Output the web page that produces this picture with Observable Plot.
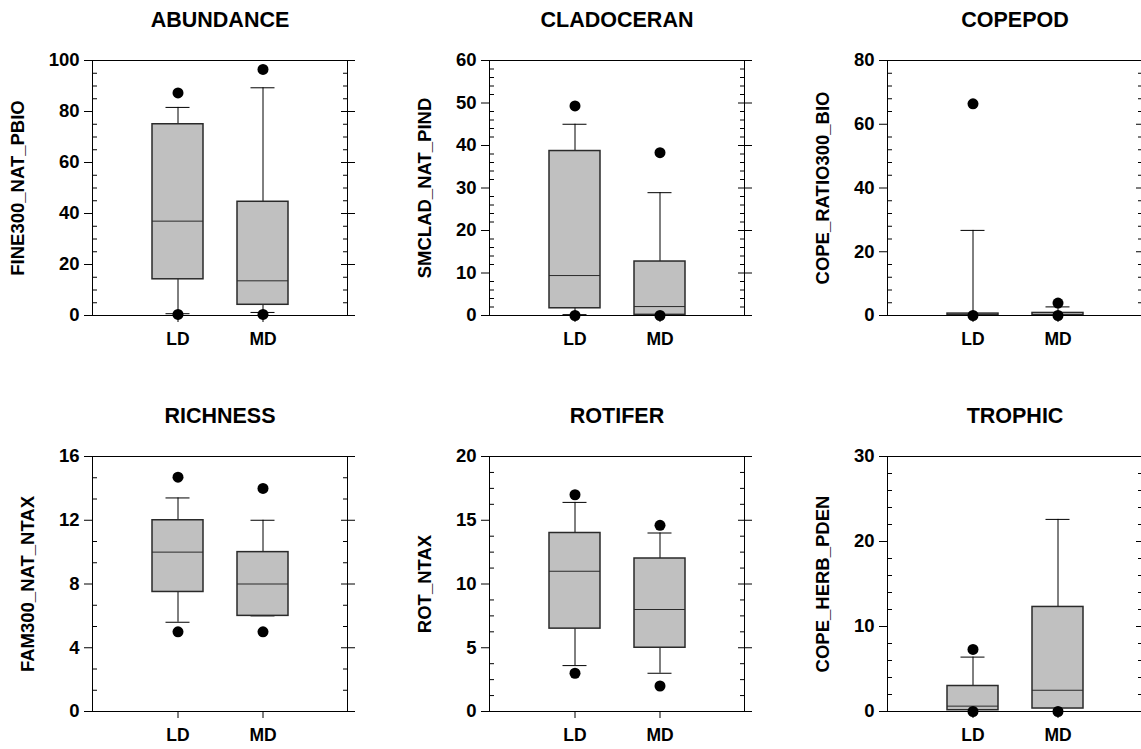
<!DOCTYPE html>
<html><head><meta charset="utf-8">
<script src="https://cdn.jsdelivr.net/npm/d3@7"></script>
<script src="https://cdn.jsdelivr.net/npm/@observablehq/plot@0.6"></script>
<style>
html,body{margin:0;padding:0;background:#fff;overflow:hidden;}
#chart{position:relative;width:1141px;height:749px;overflow:hidden;}
.panel{position:absolute;}
</style></head><body><div id="chart"></div>
<script>
const categories = ["LD", "MD"];
const titles = ["ABUNDANCE", "CLADOCERAN", "COPEPOD", "RICHNESS", "ROTIFER", "TROPHIC"];
const yLabels = ["FINE300_NAT_PBIO", "SMCLAD_NAT_PIND", "COPE_RATIO300_BIO", "FAM300_NAT_NTAX", "ROT_NTAX", "COPE_HERB_PDEN"];
const yMax = [100, 60, 80, 16, 20, 30];
const majorStep = [20, 10, 20, 4, 5, 10];
const minorCount = [4, 5, 5, 3, 4, 5]; // minor intervals per major interval
// values per panel: [LD, MD]
const q1 = [[14.2, 4.2], [1.7, 0.15], [0.05, 0.05], [7.5, 6.0], [6.5, 5.0], [0.15, 0.35]];
const med = [[37, 13.6], [9.4, 2.1], [0.2, 0.3], [10, 8], [11, 8], [0.63, 2.5]];
const q3 = [[75, 44.6], [38.7, 12.7], [0.6, 0.8], [12, 10], [14, 12], [3.0, 12.3]];
const whiskLo = [[0.7, 1.2], [0.2, 0], [0, 0], [5.6, 6.0], [3.6, 3.0], [0, 0]];
const whiskHi = [[81.6, 89.3], [45, 28.9], [26.7, 2.7], [13.4, 12], [16.4, 14], [6.4, 22.6]];
const outLo = [[0.4, 0.4], [0, 0], [0, 0], [5, 5], [3, 2], [0, 0]];
const outHi = [[87.3, 96.5], [49.3, 38.3], [66.4, 3.9], [14.7, 14], [17, 14.6], [7.3, null]];

const FONT = "'Liberation Sans', Arial, Helvetica, sans-serif";
const chart = document.getElementById("chart");
const blank = () => "";

titles.forEach((title, i) => {
  const col = i % 3, row = Math.floor(i / 3);
  const rows = categories.map((c, j) => ({
    cat: c, q1: q1[i][j], med: med[i][j], q3: q3[i][j], wl: whiskLo[i][j], wh: whiskHi[i][j]
  }));
  const outliers = [];
  categories.forEach((c, j) => {
    if (outLo[i][j] != null) outliers.push({cat: c, v: outLo[i][j]});
    if (outHi[i][j] != null) outliers.push({cat: c, v: outHi[i][j]});
  });
  const nMajor = Math.round(yMax[i] / majorStep[i]);
  const major = d3.range(nMajor + 1).map(k => k * majorStep[i]);
  const minor = [];
  for (let k = 0; k < nMajor; k++)
    for (let m = 1; m < minorCount[i]; m++)
      minor.push(k * majorStep[i] + m * majorStep[i] / minorCount[i]);
  const maxLen = d3.max(major, d => String(d).length);

  const p = Plot.plot({
    width: 397, height: 356,
    marginLeft: 92, marginRight: 50, marginTop: 60, marginBottom: 41,
    style: {fontFamily: FONT, fontWeight: "bold", fontSize: "18px", color: "black", background: "transparent", overflow: "visible"},
    x: {type: "band", domain: categories, paddingInner: 0.4, paddingOuter: 0.7, label: null},
    y: {domain: [0, yMax[i]], label: null},
    marks: [
      Plot.ruleX(rows, {x: "cat", y1: "q3", y2: "wh", stroke: "black", strokeWidth: 1}),
      Plot.ruleX(rows, {x: "cat", y1: "wl", y2: "q1", stroke: "black", strokeWidth: 1}),
      Plot.tickY(rows, {x: "cat", y: "wh", insetLeft: 13.5, insetRight: 13.5, stroke: "black", strokeWidth: 1}),
      Plot.tickY(rows, {x: "cat", y: "wl", insetLeft: 13.5, insetRight: 13.5, stroke: "black", strokeWidth: 1}),
      Plot.barY(rows, {x: "cat", y1: "q1", y2: "q3", fill: "#c0c0c0", stroke: "#2a2a2a", strokeWidth: 1.5}),
      Plot.tickY(rows, {x: "cat", y: "med", stroke: "#2a2a2a", strokeWidth: 1}),
      Plot.dot(outliers, {x: "cat", y: "v", r: 5.5, fill: "black", stroke: "none"}),
      Plot.frame({stroke: "black", strokeWidth: 1}),
      Plot.axisY({anchor: "left", ticks: major, tickSize: 8, tickPadding: 5, label: null, fontSize: 18.5, fontWeight: "bold"}),
      Plot.axisY({anchor: "left", ticks: minor, tickSize: -5, tickFormat: blank, label: null}),
      Plot.axisY({anchor: "right", ticks: major, tickSize: 7, tickFormat: blank, label: null}),
      Plot.axisY({anchor: "right", ticks: major, tickSize: -7, tickFormat: blank, label: null}),
      Plot.axisY({anchor: "right", ticks: minor, tickSize: -5, tickFormat: blank, label: null}),
      Plot.axisX({tickSize: 7, tickPadding: 10, label: null, fontSize: 17.5, fontWeight: "bold"}),
      Plot.text([title], {frameAnchor: "top", dy: -40, lineAnchor: "middle", fontSize: 21.5, fontWeight: "bold"}),
      Plot.text([yLabels[i]], {frameAnchor: "left", rotate: -90, dx: -(44 + 10 * maxLen), lineAnchor: "middle", textAnchor: "middle", fontSize: 18.5, fontWeight: "bold"})
    ]
  });
  p.classList.add("panel");
  p.style.left = [0, 397, 795][col] + "px";
  p.style.top = (row * 396) + "px";
  p.style.position = "absolute";
  chart.appendChild(p);
});
</script>
</body></html>
